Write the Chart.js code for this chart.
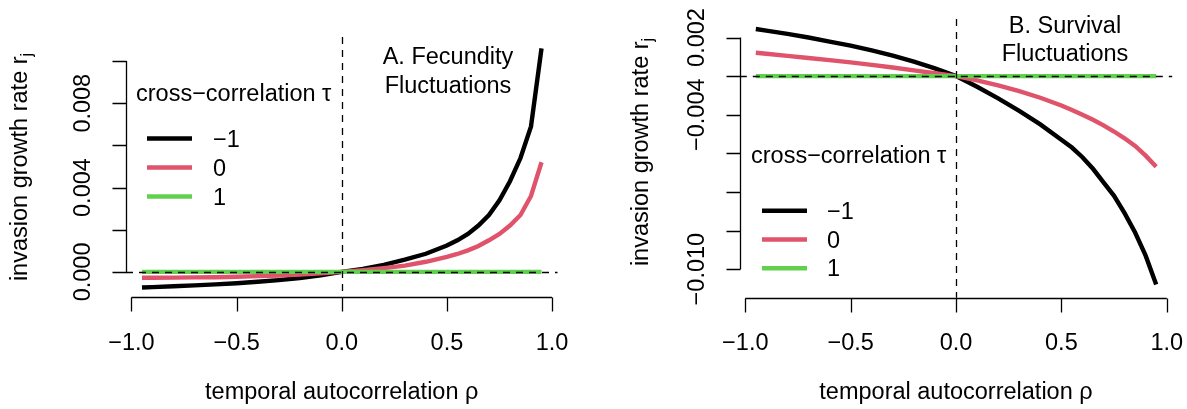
<!DOCTYPE html>
<html>
<head>
<meta charset="utf-8">
<script src="https://cdn.jsdelivr.net/npm/chart.js@4/dist/chart.umd.min.js"></script>
<style>
  html, body { margin: 0; padding: 0; background: #fff; }
  #wrap { position: relative; width: 1187px; height: 409px; overflow: hidden; }
  canvas { position: absolute; top: 0; }
  #chartA { left: 0; }
  #chartB { left: 594px; }
</style>
</head>
<body>
<div id="wrap">
  <canvas id="chartA" width="594" height="409"></canvas>
  <canvas id="chartB" width="593" height="409"></canvas>
</div>
<script>
// temporal autocorrelation rho (x values shared by every curve)
const rho = [-0.95, -0.9, -0.8, -0.7, -0.6, -0.5, -0.4, -0.3, -0.2, -0.1, 0,
             0.1, 0.2, 0.3, 0.4, 0.5, 0.55, 0.6, 0.65, 0.7, 0.75, 0.8, 0.85, 0.9, 0.95];

// A. fecundity fluctuations, one array per cross-correlation tau
const fecTauMinus1 = [-0.00074, -0.00072, -0.00068, -0.00064, -0.00059, -0.00054, -0.00047, -0.00039, -0.00029, -0.00016, 0,
                      0.00014, 0.00033, 0.00058, 0.00086, 0.00125, 0.0015, 0.0018, 0.0022, 0.0027, 0.0034, 0.0043, 0.0054, 0.0069, 0.0106];
const fecTau0 = [-0.00028, -0.00028, -0.00027, -0.00026, -0.00025, -0.00023, -0.0002, -0.00017, -0.00012, -0.00007, 0,
                 0.00008, 0.00018, 0.0003, 0.00048, 0.00071, 0.00085, 0.00102, 0.00123, 0.0015, 0.0018, 0.0022, 0.0027, 0.0036, 0.0052];
const fecTau1 = [0, 0, 0, 0, 0, 0, 0, 0, 0, 0, 0, 0, 0, 0, 0, 0, 0, 0, 0, 0, 0, 0, 0, 0, 0];

// B. survival fluctuations
const survTauMinus1 = [0.00244, 0.00236, 0.00219, 0.002, 0.00179, 0.00158, 0.00133, 0.00106, 0.00075, 0.0004, 0,
                       -0.00055, -0.00115, -0.0018, -0.0025, -0.0033, -0.0037, -0.0042, -0.0048, -0.0055, -0.0062, -0.0071, -0.0081, -0.0093, -0.0108];
const survTau0 = [0.00121, 0.00116, 0.00105, 0.00094, 0.00083, 0.00071, 0.00058, 0.00045, 0.0003, 0.00015, 0,
                  -0.00022, -0.00048, -0.00078, -0.00112, -0.00152, -0.00175, -0.002, -0.00226, -0.00255, -0.00287, -0.00322, -0.00362, -0.00412, -0.0047];
const survTau1 = [0, 0, 0, 0, 0, 0, 0, 0, 0, 0, 0, 0, 0, 0, 0, 0, 0, 0, 0, 0, 0, 0, 0, 0, 0];

// axes
const xTicks = [-1, -0.5, 0, 0.5, 1];
const xTickLabels = ['\u22121.0', '\u22120.5', '0.0', '0.5', '1.0'];
const fecYTicks = [0, 0.002, 0.004, 0.006, 0.008, 0.01];
const fecYLabels = ['0.000', '', '0.004', '', '0.008', ''];
const survYTicks = [0.002, 0, -0.002, -0.004, -0.006, -0.008, -0.01];
const survYLabels = ['0.002', '', '\u22120.004', '', '', '', '\u22120.010'];

const tauLabels = ['\u22121', '0', '1'];
const tauColors = ['#000000', '#DF536B', '#61D04F'];

const FONT = '"Liberation Sans", Arial, Helvetica, sans-serif';
const FS = 23.5;

function toPoints(ys) {
    return rho.map((r, i) => ({ x: r, y: ys[i] }));
}

function makeDatasets(series) {
    // green drawn last (on top), like the R lines() calls
    return series.map((s, i) => ({
        label: tauLabels[i],
        data: toPoints(s),
        borderColor: tauColors[i],
        backgroundColor: tauColors[i],
        borderWidth: 4.4,
        pointRadius: 0,
        tension: 0,
        fill: false,
        order: 3 - i
    }));
}

// draws base-R style axes, dashed zero lines, panel label and legend
const rStyle = {
    id: 'rStyle',
    afterDatasetsDraw(chart, args, o) {
        const ctx = chart.ctx;
        const xs = chart.scales.x, ys = chart.scales.y;
        const a = chart.chartArea;
        ctx.save();

        // dashed abline(h = 0) and abline(v = 0)
        ctx.strokeStyle = '#000';
        ctx.lineWidth = 1.3;
        ctx.setLineDash([7, 6]);
        ctx.beginPath();
        const vx = Math.round(xs.getPixelForValue(0)) + 0.5;
        ctx.moveTo(vx, a.top);
        ctx.lineTo(vx, a.bottom);
        const hy = Math.round(ys.getPixelForValue(0)) + 0.5;
        ctx.moveTo(a.left, hy);
        ctx.lineTo(a.right, hy);
        ctx.stroke();
        ctx.setLineDash([]);

        // x axis
        ctx.lineWidth = 1.3;
        ctx.beginPath();
        const bx = Math.round(a.bottom) + 0.5;
        ctx.moveTo(xs.getPixelForValue(xTicks[0]), bx);
        ctx.lineTo(xs.getPixelForValue(xTicks[xTicks.length - 1]), bx);
        xTicks.forEach(t => {
            const px = Math.round(xs.getPixelForValue(t)) + 0.5;
            ctx.moveTo(px, bx);
            ctx.lineTo(px, bx + 14);
        });
        ctx.stroke();
        ctx.fillStyle = '#000';
        ctx.font = FS + 'px ' + FONT;
        ctx.textAlign = 'center';
        ctx.textBaseline = 'alphabetic';
        xTicks.forEach((t, i) => {
            ctx.fillText(xTickLabels[i], xs.getPixelForValue(t), 350);
        });

        // y axis
        const lx = Math.round(a.left) + 0.5;
        ctx.beginPath();
        ctx.moveTo(lx, ys.getPixelForValue(o.yTicks[0]));
        ctx.lineTo(lx, ys.getPixelForValue(o.yTicks[o.yTicks.length - 1]));
        o.yTicks.forEach(t => {
            const py = Math.round(ys.getPixelForValue(t)) + 0.5;
            ctx.moveTo(lx, py);
            ctx.lineTo(lx - 14, py);
        });
        ctx.stroke();
        o.yTicks.forEach((t, i) => {
            if (!o.yLabels[i]) return;
            ctx.save();
            ctx.translate(a.left - 36, ys.getPixelForValue(t));
            ctx.rotate(-Math.PI / 2);
            ctx.fillText(o.yLabels[i], 0, 0);
            ctx.restore();
        });

        // axis titles
        ctx.fillText('temporal autocorrelation \u03c1', xs.getPixelForValue(0), 399);
        ctx.save();
        ctx.translate(o.yTitleX, o.yTitleY);
        ctx.rotate(-Math.PI / 2);
        const main = 'invasion growth rate r';
        ctx.font = FS + 'px ' + FONT;
        const wMain = ctx.measureText(main).width;
        ctx.font = Math.round(FS * 0.7) + 'px ' + FONT;
        const wSub = ctx.measureText('j').width;
        const start = -(wMain + wSub) / 2;
        ctx.textAlign = 'left';
        ctx.font = FS + 'px ' + FONT;
        ctx.fillText(main, start, 0);
        ctx.font = Math.round(FS * 0.7) + 'px ' + FONT;
        ctx.fillText('j', start + wMain, 5);
        ctx.restore();

        // panel label
        ctx.font = FS + 'px ' + FONT;
        ctx.textAlign = 'center';
        o.title.forEach((line, i) => {
            ctx.fillText(line, o.titleX, o.titleY + i * 28.5);
        });

        // legend
        const lg = o.legend;
        ctx.textAlign = 'left';
        ctx.fillText('cross\u2212correlation \u03c4', lg.x, lg.titleY);
        chart.data.datasets.forEach((ds, i) => {
            const y = lg.y0 + i * lg.dy;
            ctx.strokeStyle = ds.borderColor;
            ctx.lineWidth = 4.4;
            ctx.beginPath();
            ctx.moveTo(lg.lineX, y);
            ctx.lineTo(lg.lineX + 45, y);
            ctx.stroke();
            ctx.fillText(ds.label, lg.textX, y + 8);
        });

        ctx.restore();
    }
};

function makeChart(id, series, yMin, yMax, padding, opts) {
    return new Chart(document.getElementById(id), {
        type: 'line',
        data: { datasets: makeDatasets(series) },
        options: {
            responsive: false,
            animation: false,
            layout: { padding: padding },
            plugins: {
                legend: { display: false },
                tooltip: { enabled: false },
                rStyle: opts
            },
            scales: {
                x: { type: 'linear', min: -1.026, max: 1.026, display: false },
                y: { type: 'linear', min: yMin, max: yMax, display: false }
            }
        },
        plugins: [rStyle]
    });
}

makeChart('chartA', [fecTauMinus1, fecTau0, fecTau1], -0.00119, 0.01114,
    { left: 126, right: 36.5, top: 37, bottom: 112 },
    {
        yTicks: fecYTicks, yLabels: fecYLabels,
        yTitleX: 27, yTitleY: 167,
        title: ['A. Fecundity', 'Fluctuations'], titleX: 448, titleY: 64,
        legend: { x: 136, titleY: 101, lineX: 147, textX: 213, y0: 138.5, dy: 29 }
    });

makeChart('chartB', [survTauMinus1, survTau0, survTau1], -0.01148, 0.00296,
    { left: 145.8, right: 14.8, top: 19, bottom: 111.3 },
    {
        yTicks: survYTicks, yLabels: survYLabels,
        yTitleX: 54, yTitleY: 152,
        title: ['B. Survival', 'Fluctuations'], titleX: 471, titleY: 32.5,
        legend: { x: 157, titleY: 162.5, lineX: 168, textX: 233, y0: 210.7, dy: 28.8 }
    });
</script>
</body>
</html>
